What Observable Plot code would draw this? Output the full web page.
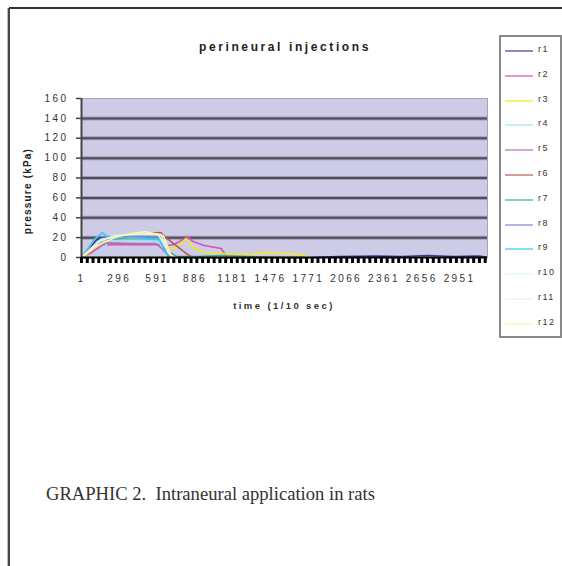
<!DOCTYPE html>
<html>
<head>
<meta charset="utf-8">
<script src="https://cdn.jsdelivr.net/npm/d3@7"></script>
<script src="https://cdn.jsdelivr.net/npm/@observablehq/plot@0.6"></script>
<style>
  html, body { margin: 0; padding: 0; background: #fff; }
  #wrap { position: relative; width: 562px; height: 566px; overflow: hidden; background: #fff; font-family: Arial, "Liberation Sans", sans-serif; }
  #chart { position: absolute; left: 0; top: 0; }
  #chart svg text { letter-spacing: 2.4px; }
  .abs { position: absolute; white-space: nowrap; }
</style>
</head>
<body>
<div id="wrap">
  <div class="abs" style="left:9px;top:7px;width:553px;height:0;border-top:2px solid #333;"></div>
  <div class="abs" style="left:7px;top:8px;width:1px;height:558px;background:#bbb;"></div>
  <div class="abs" style="left:8px;top:8px;width:0;height:558px;border-left:2px solid #444;"></div>
  <div id="chart"></div>
  <div id="title" class="abs" style="left:0;width:570px;top:40px;text-align:center;font-size:12px;font-weight:bold;letter-spacing:2.6px;color:#222;">perineural injections</div>
  <div id="ytitle" class="abs" style="left:27px;top:191px;transform:translate(-50%,-50%) rotate(-90deg);font-size:10px;font-weight:bold;letter-spacing:1.2px;color:#222;">pressure (kPa)</div>
  <div id="xtitle" class="abs" style="left:0;width:568px;top:300px;text-align:center;font-size:9.5px;font-weight:bold;letter-spacing:2.4px;color:#333;">time (1/10 sec)</div>
  <div id="legend" class="abs" style="left:499px;top:35px;width:59px;height:299px;border:2px solid #8a8a8a;background:#fff;"></div>
  <div id="caption" class="abs" style="left:46px;top:483px;font-family:'Liberation Serif','DejaVu Serif',serif;font-size:18.6px;color:#333;">GRAPHIC 2.&nbsp; Intraneural application in rats</div>
</div>
<script>
// ---- data (time in 1/10 s, pressure in kPa) ----
const seriesNames = ["r1","r2","r3","r4","r5","r6","r7","r8","r9","r10","r11","r12"];
const seriesColors = ["#3c3c8c","#d94fb8","#f2ea1a","#9fe3ee","#b070b8","#b25a5a","#4aa89c","#7a86d6","#36c8f0","#d8f4f8","#dff5ee","#fbf5a8"];
const xTickLabels = [1, 296, 591, 886, 1181, 1476, 1771, 2066, 2361, 2656, 2951];
const yTicks = [0, 20, 40, 60, 80, 100, 120, 140, 160];
const xDomain = [1, 3169];

const r1 = [[1,0],[40,5],[120,18],[200,20],[400,21],[600,20],[650,10],[700,2],[760,0],[1800,0],[2000,1],[2300,1.5],[2500,1],[2700,2],[2900,1],[3100,1.5],[3160,0.5]];
const r2 = [[1,0],[80,5],[170,13],[400,13],[620,13],[680,12],[720,13],[833,21],[870,16],[960,12],[1090,9],[1113,5],[1140,0]];
const r3 = [[1,0],[30,2],[170,17],[250,19],[600,20],[640,15],[680,10],[720,9],[780,14],[818,19],[880,9],[960,5],[1100,4],[1300,3],[1450,5],[1600,4],[1700,3],[1790,0]];
const r4 = [[1,0],[100,1],[150,5],[200,14],[260,16],[600,16],[680,3],[750,0]];
const r5 = [[1,0],[60,8],[150,15],[400,14],[580,14],[620,10],[680,2],[720,0]];
const r6 = [[1,0],[50,6],[150,18],[300,22],[500,24],[620,25],[660,20],[700,16],[780,8],[830,3],[870,0]];
const r7 = [[1,0],[100,10],[180,18],[400,20],[620,20],[680,6],[740,1],[900,1],[1100,2],[1300,1],[1500,0]];
const r8 = [[1,0],[60,8],[160,19],[400,21],[600,21],[660,8],[720,0]];
const r9 = [[1,0],[100,18],[164,25],[210,20],[400,20],[608,18],[678,1],[720,0]];
const r10 = [[1,0],[130,15],[250,22],[550,24],[620,23],[680,5],[720,0]];
const r11 = [[1,0],[150,18],[400,24],[600,23],[690,3],[730,0]];
const r12 = [[1,0],[120,12],[300,22],[500,26],[640,22],[700,2],[740,0]];

const allSeries = [r1,r2,r3,r4,r5,r6,r7,r8,r9,r10,r11,r12];
const rows = allSeries.flatMap((s, i) => s.map(([t, v]) => ({series: seriesNames[i], t, v})));
const gridVals = yTicks.filter(d => d > 0 && d < 160);
const minorTicks = d3.range(xDomain[0], xDomain[1], 45);

const chart = Plot.plot({
  width: 562,
  height: 566,
  marginLeft: 81,
  marginRight: 75,
  marginTop: 98,
  marginBottom: 309,
  style: {fontFamily: "Arial, 'Liberation Sans', sans-serif", fontSize: "10px", background: "transparent", color: "#333"},
  x: {domain: xDomain, axis: null},
  y: {domain: [0, 160], axis: null},
  color: {domain: seriesNames, range: seriesColors},
  marks: [
    Plot.frame({fill: "#cdcbe6", stroke: "#a6a4ba"}),
    Plot.ruleY(gridVals, {stroke: "#9e9cb4", strokeWidth: 4}),
    Plot.ruleY(gridVals, {stroke: "#4e4c5a", strokeWidth: 2}),
    Plot.line(rows, {x: "t", y: "v", z: "series", stroke: "series", strokeWidth: 1.6}),
    Plot.ruleX([xDomain[0]], {stroke: "#444", strokeWidth: 2}),
    Plot.ruleY([0], {stroke: "#000", strokeWidth: 2}),
    Plot.axisY({ticks: yTicks, label: null, tickSize: 5, tickPadding: 8, stroke: "#444", strokeWidth: 1.5, fill: "#333", fontSize: 10, tickFormat: d => String(d)}),
    Plot.axisX({ticks: minorTicks, label: null, tickSize: 6, tickFormat: () => "", stroke: "#000", strokeWidth: 3}),
    Plot.axisX({ticks: xTickLabels, label: null, tickSize: 0, tickPadding: 17, fill: "#333", fontSize: 10, tickFormat: d => String(d)})
  ]
});
document.getElementById("chart").appendChild(chart);

// legend
const legend = d3.select("#legend");
seriesNames.forEach((name, i) => {
  const row = legend.append("div")
    .style("position", "absolute")
    .style("left", "4px")
    .style("top", (8 + i * 24.8) + "px")
    .style("height", "12px")
    .style("width", "56px");
  row.append("div")
    .style("position", "absolute")
    .style("left", "0px")
    .style("top", "5px")
    .style("width", "28px")
    .style("height", "2px")
    .style("background", seriesColors[i])
    .style("opacity", 0.6);
  row.append("div")
    .style("position", "absolute")
    .style("left", "33px")
    .style("top", "-1px")
    .style("font-size", "9px")
    .style("letter-spacing", "1.5px")
    .style("color", "#333")
    .text(name);
});
</script>
</body>
</html>
